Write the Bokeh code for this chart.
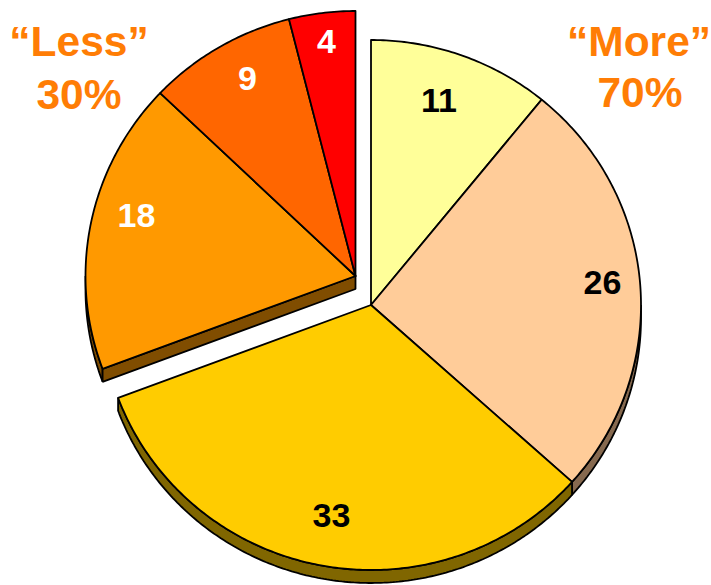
import math
from bokeh.plotting import figure
from bokeh.embed import file_html
from bokeh.resources import INLINE
from bokeh.core.properties import value

# --- data ---
values = [11, 26, 33, 18, 9, 4]
fills = ["#ffff99", "#ffcc99", "#ffcc00", "#ff9900", "#ff6600", "#ff0000"]
sides = ["#808050", "#86694f", "#806600", "#804d00", "#803300", "#800000"]
exploded = [False, False, False, True, True, True]
label_colors = ["black", "black", "black", "white", "white", "white"]
group_labels = ["\u201cLess\u201d", "30%", "\u201cMore\u201d", "70%"]

# --- layout (reference pixels) ---
CX, CY, RX, RY = 370.5, 304.5, 270, 265
DX, DY = -15.5, -29
DEPTH = 13
label_pos = [(438.5, 100), (602, 282), (331, 515), (136, 215), (247, 78), (326, 41)]
group_pos = [(78.5, 41), (78.5, 94), (638.5, 41), (639.5, 92)]

p = figure(width=711, height=585, x_range=(0, 711), y_range=(585, 0),
           output_backend="svg", toolbar_location=None, min_border=0,
           outline_line_color=None, background_fill_color="white", border_fill_color="white")
p.xaxis.visible = False
p.yaxis.visible = False
p.grid.visible = False


def arc(a0, a1, cx, cy, dy=0.0):
    n = max(2, int(abs(a1 - a0) * 90))
    xs, ys = [], []
    for i in range(n + 1):
        a = a0 + (a1 - a0) * i / n
        xs.append(cx + RX * math.sin(a))
        ys.append(cy - RY * math.cos(a) + dy)
    return xs, ys


total = sum(values)
wedges = []
acc = 0
for v, f, s, e in zip(values, fills, sides, exploded):
    a0 = acc / total * 2 * math.pi
    acc += v
    a1 = acc / total * 2 * math.pi
    cx = CX + (DX if e else 0)
    cy = CY + (DY if e else 0)
    wedges.append((a0, a1, cx, cy, f, s, e))

# extruded rims: only the part of the outer arc facing the viewer (lower half)
for a0, a1, cx, cy, f, s, e in wedges:
    lo, hi = max(a0, math.pi / 2), min(a1, 3 * math.pi / 2)
    if hi <= lo:
        continue
    tx, ty = arc(lo, hi, cx, cy)
    bx, by = arc(lo, hi, cx, cy, DEPTH)
    p.patch(tx + bx[::-1], ty + by[::-1], fill_color=s, line_color="black", line_width=1.8)

# cut face of the exploded group along its first radial edge
a0, a1, cx, cy, f, s, e = wedges[3]
ex = cx + RX * math.sin(a0)
ey = cy - RY * math.cos(a0)
p.patch([cx, ex, ex, cx], [cy, ey, ey + DEPTH, cy + DEPTH], fill_color=s, line_color="black", line_width=1.8)

# tops
for a0, a1, cx, cy, f, s, e in wedges:
    ax, ay = arc(a0, a1, cx, cy)
    p.patch([cx] + ax, [cy] + ay, fill_color=f, line_color="black", line_width=1.8, line_join="round")

for (x, y), t, c in zip(label_pos, values, label_colors):
    p.text([x], [y], text=[str(t)], text_color=c, text_font=value("Liberation Sans"),
           text_font_style="bold", text_font_size="34px", text_align="center", text_baseline="middle")

for (x, y), t in zip(group_pos, group_labels):
    p.text([x], [y], text=[t], text_color="#ff7d05", text_font=value("Liberation Sans"),
           text_font_style="bold", text_font_size="42.5px", text_align="center", text_baseline="middle")

open("out.html", "w").write(file_html(p, INLINE))
